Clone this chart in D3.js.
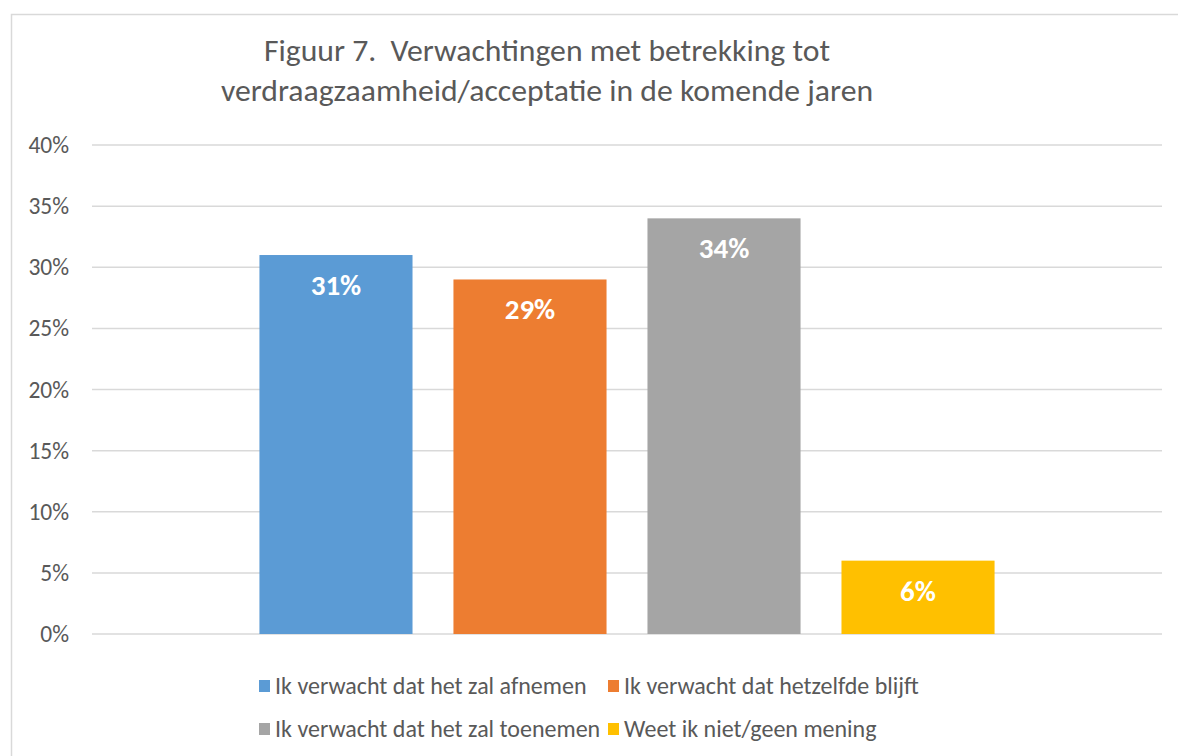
<!DOCTYPE html>
<html>
<head>
<meta charset="utf-8">
<script src="https://cdn.jsdelivr.net/npm/d3@7"></script>
<style>
  body { margin: 0; background: #fff; }
  svg text { font-family: Calibri, Carlito, Lato, sans-serif; }
</style>
</head>
<body>
<div id="chart"></div>
<script>
// data
var series = ["Ik verwacht dat het zal afnemen", "Ik verwacht dat hetzelfde blijft", "Ik verwacht dat het zal toenemen", "Weet ik niet/geen mening"];
var values = [0.31, 0.29, 0.34, 0.06];
var colors = ["#5B9BD5", "#ED7D31", "#A5A5A5", "#FFC000"];
var yTicks = [0, 0.05, 0.10, 0.15, 0.20, 0.25, 0.30, 0.35, 0.40];
var titleLines = ["Figuur 7.  Verwachtingen met betrekking tot", "verdraagzaamheid/acceptatie in de komende jaren"];

var width = 1178, height = 756;
var margin = {top: 145, right: 16, bottom: 122, left: 92};

var svg = d3.select("#chart").append("svg")
  .attr("width", width)
  .attr("height", height);

// chart border (runs off the right and bottom edge)
svg.append("rect")
  .attr("x", 11.5).attr("y", 14.5)
  .attr("width", 1300).attr("height", 900)
  .attr("fill", "#fff")
  .attr("stroke", "#D9D9D9")
  .attr("stroke-width", 1.5);

// title
svg.append("text")
  .attr("x", 547)
  .attr("y", 61)
  .attr("text-anchor", "middle")
  .style("font-size", "31.7px")
  .style("fill", "#595959")
  .selectAll("tspan")
  .data(titleLines)
  .enter().append("tspan")
    .attr("x", 547)
    .attr("dy", (d, i) => i == 0 ? 0 : 40)
    .style("white-space", "pre")
    .text(d => d);

var y = d3.scaleLinear()
  .domain([0, 0.4])
  .range([height - margin.bottom, margin.top]);

var x = d3.scaleBand()
  .domain(series)
  .range([margin.left, width - margin.right])
  .paddingInner(0.211)
  .paddingOuter(0.863);

// gridlines
svg.append("g")
  .selectAll("line")
  .data(yTicks)
  .enter().append("line")
    .attr("x1", margin.left)
    .attr("x2", width - margin.right)
    .attr("y1", d => y(d))
    .attr("y2", d => y(d))
    .attr("stroke", "#D9D9D9")
    .attr("stroke-width", 1.5);

// y axis labels
var yAxis = svg.append("g")
  .attr("transform", "translate(" + (margin.left - 23) + ",0)")
  .call(d3.axisLeft(y).tickValues(yTicks).tickFormat(d3.format(".0%")).tickSize(0).tickPadding(0));
yAxis.select(".domain").remove();
yAxis.selectAll("text")
  .style("font-size", "23.5px")
  .style("font-family", "Calibri, Carlito, Lato, sans-serif")
  .attr("fill", "#595959");

// bars
svg.append("g")
  .selectAll("rect")
  .data(values)
  .enter().append("rect")
    .attr("x", (d, i) => x(series[i]))
    .attr("y", d => y(d))
    .attr("width", x.bandwidth())
    .attr("height", d => y(0) - y(d))
    .attr("fill", (d, i) => colors[i]);

// data labels
svg.append("g")
  .selectAll("text")
  .data(values)
  .enter().append("text")
    .attr("x", (d, i) => x(series[i]) + x.bandwidth() / 2)
    .attr("y", d => y(d) + 40)
    .attr("text-anchor", "middle")
    .style("font-size", "29px")
    .style("font-weight", "bold")
    .style("fill", "#fff")
    .text(d => d3.format(".0%")(d));

// legend, 2 columns x 2 rows
var legendX = [259, 608];
var legendY = [686, 729];
var legend = svg.append("g")
  .selectAll("g")
  .data(series)
  .enter().append("g")
    .attr("transform", (d, i) => "translate(" + legendX[i % 2] + "," + legendY[Math.floor(i / 2)] + ")");
legend.append("rect")
  .attr("x", 0).attr("y", -6)
  .attr("width", 11).attr("height", 12)
  .attr("fill", (d, i) => colors[i]);
legend.append("text")
  .attr("x", 16)
  .attr("y", 0)
  .attr("dy", "0.35em")
  .style("font-size", "24px")
  .style("fill", "#595959")
  .text(d => d);
</script>
</body>
</html>
